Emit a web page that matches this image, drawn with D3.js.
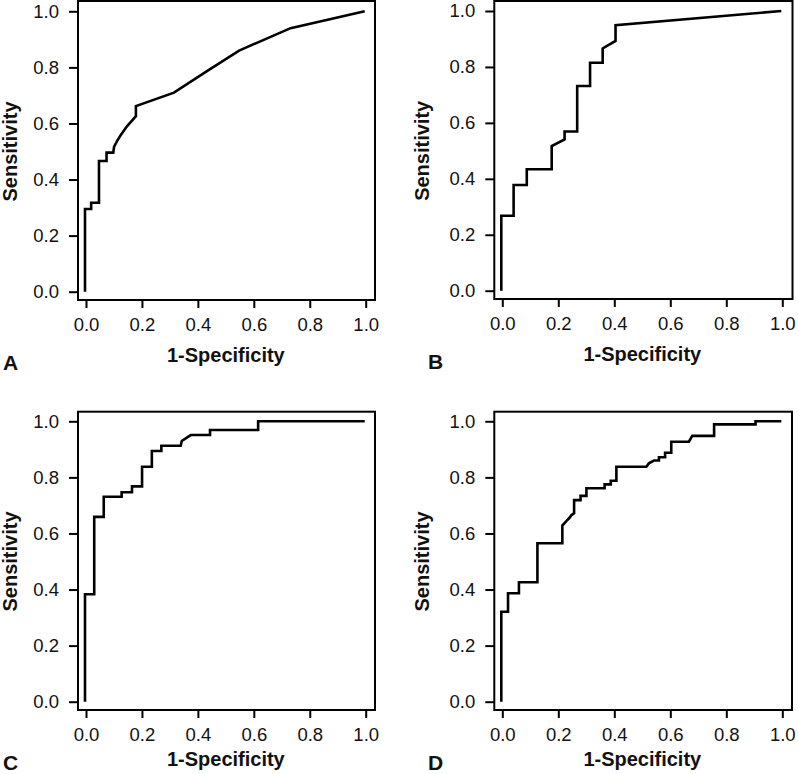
<!DOCTYPE html>
<html>
<head>
<meta charset="utf-8">
<script src="https://cdn.jsdelivr.net/npm/d3@7"></script>
<style>
  html, body { margin: 0; padding: 0; background: #fff; }
  svg { display: block; }
  text { font-family: "Liberation Sans", Arial, Helvetica, sans-serif; fill: #111; }
</style>
</head>
<body>
<svg id="chart" width="799" height="774"></svg>
<script>
// ---- data ----
const tickValues = [0, 0.2, 0.4, 0.6, 0.8, 1.0];
const xTitle = "1-Specificity";
const yTitle = "Sensitivity";
const panelLabels = ["A", "B", "C", "D"];

// [1-Specificity, Sensitivity]
const rocA = [
  [0,0],[0,0.295],[0.022,0.295],[0.022,0.317],[0.05,0.317],[0.05,0.466],
  [0.077,0.466],[0.077,0.496],[0.101,0.496],[0.104,0.517],[0.116,0.540],
  [0.128,0.559],[0.150,0.590],[0.182,0.626],[0.182,0.662],[0.318,0.710],
  [0.443,0.791],[0.551,0.860],[0.735,0.940],[1.0,1.0]
];
const rocB = [
  [0,0],[0,0.268],[0.044,0.268],[0.044,0.378],[0.091,0.378],[0.091,0.434],
  [0.180,0.434],[0.180,0.517],[0.226,0.541],[0.226,0.569],[0.271,0.569],
  [0.271,0.732],[0.317,0.732],[0.317,0.815],[0.362,0.815],[0.362,0.866],
  [0.408,0.893],[0.408,0.949],[1.0,1.0]
];
const rocC = [
  [0,0],[0,0.383],[0.033,0.383],[0.033,0.659],[0.067,0.659],[0.067,0.731],
  [0.131,0.731],[0.131,0.747],[0.168,0.747],[0.168,0.768],[0.204,0.768],
  [0.204,0.838],[0.239,0.838],[0.239,0.894],[0.273,0.894],[0.273,0.913],
  [0.342,0.913],[0.346,0.930],[0.378,0.951],[0.447,0.951],[0.447,0.969],
  [0.619,0.969],[0.619,1.0],[1.0,1.0]
];
const rocD = [
  [0,0],[0,0.321],[0.024,0.321],[0.024,0.387],[0.063,0.387],[0.063,0.426],
  [0.129,0.426],[0.129,0.565],[0.218,0.565],[0.218,0.628],[0.233,0.645],
  [0.243,0.655],[0.250,0.665],[0.260,0.672],[0.260,0.719],[0.283,0.719],
  [0.283,0.734],[0.304,0.734],[0.304,0.761],[0.369,0.761],[0.369,0.775],
  [0.391,0.775],[0.391,0.788],[0.411,0.788],[0.411,0.838],[0.518,0.838],
  [0.527,0.850],[0.545,0.860],[0.563,0.860],[0.563,0.872],[0.585,0.872],
  [0.585,0.888],[0.607,0.888],[0.607,0.927],[0.670,0.927],[0.682,0.948],
  [0.760,0.948],[0.760,0.989],[0.908,0.989],[0.908,1.0],[1.0,1.0]
];
const rocSeries = [rocA, rocB, rocC, rocD];

// ---- layout ----
const layout = [
  { x0: 86,    x1: 365.7, y0: 291.7, y1: 11.3,  box: [78, 1, 375, 300],        ytx: 10,    lx: 3,   ty: 362, ly: 370 },
  { x0: 502.3, x1: 782.3, y0: 290.7, y1: 11,    box: [494.3, 1, 792.5, 299],   ytx: 421.5, lx: 428, ty: 361, ly: 369 },
  { x0: 86,    x1: 365.7, y0: 701.7, y1: 421.3, box: [78, 411.7, 375, 710],    ytx: 10,    lx: 3,   ty: 766, ly: 770 },
  { x0: 502.3, x1: 782.3, y0: 701.7, y1: 421.3, box: [494.3, 411.7, 792, 710], ytx: 421.5, lx: 428, ty: 766, ly: 770 }
];

const svg = d3.select("#chart");
svg.append("rect").attr("width", 799).attr("height", 774).attr("fill", "#fff");

const fmt = d3.format(".1f");

layout.forEach((L, i) => {
  const g = svg.append("g");
  const x = d3.scaleLinear().domain([0, 1]).range([L.x0, L.x1]);
  const y = d3.scaleLinear().domain([0, 1]).range([L.y0, L.y1]);
  const [bx0, by0, bx1, by1] = L.box;

  // y axis
  const ya = g.append("g").attr("transform", `translate(${bx0},0)`)
    .call(d3.axisLeft(y).tickValues(tickValues).tickFormat(fmt).tickSize(9).tickPadding(10));
  // x axis
  const xa = g.append("g").attr("transform", `translate(0,${by1})`)
    .call(d3.axisBottom(x).tickValues(tickValues).tickFormat(fmt).tickSize(8).tickPadding(10));
  [ya, xa].forEach(a => {
    a.select(".domain").remove();
    a.selectAll(".tick line").attr("stroke", "#000").attr("stroke-width", 2);
    a.selectAll(".tick text").attr("fill", "#111").style("font-size", "18.5px")
      .style("font-family", "'Liberation Sans', Arial, sans-serif");
  });

  // frame
  g.append("rect")
    .attr("x", bx0).attr("y", by0)
    .attr("width", bx1 - bx0).attr("height", by1 - by0)
    .attr("fill", "none").attr("stroke", "#000").attr("stroke-width", 2);

  // ROC curve
  const line = d3.line().x(d => x(d[0]) - 1).y(d => y(d[1]));
  g.append("path")
    .datum(rocSeries[i])
    .attr("d", line)
    .attr("fill", "none")
    .attr("stroke", "#000")
    .attr("stroke-width", 2.6)
    .attr("stroke-linejoin", "miter");

  // axis titles
  g.append("text")
    .attr("x", (L.x0 + L.x1) / 2)
    .attr("y", L.ty)
    .attr("text-anchor", "middle")
    .style("font-size", "20px").style("font-weight", "bold")
    .text(xTitle);
  g.append("text")
    .attr("transform", `translate(${L.ytx},${(L.y0 + L.y1) / 2}) rotate(-90)`)
    .attr("text-anchor", "middle")
    .attr("dy", "0.36em")
    .style("font-size", "20px").style("font-weight", "bold")
    .text(yTitle);

  // panel letter
  g.append("text")
    .attr("x", L.lx)
    .attr("y", L.ly)
    .style("font-size", "21px").style("font-weight", "bold")
    .text(panelLabels[i]);
});
</script>
</body>
</html>
